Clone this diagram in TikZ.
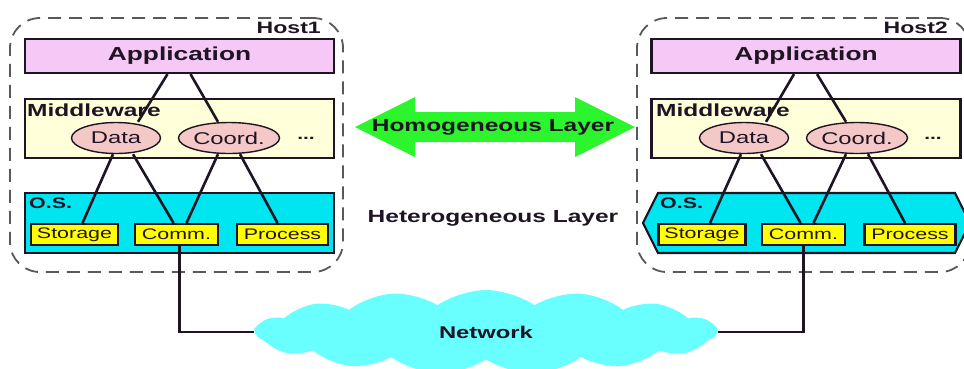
\documentclass[tikz,border=0pt]{standalone}
\usepackage{fontspec}
\setmainfont{Liberation Sans}[FakeStretch=1.4]
\usetikzlibrary{shapes.geometric,shapes.symbols}
\definecolor{appviolet}{RGB}{245,200,245}
\definecolor{mwcream}{RGB}{255,255,218}
\definecolor{modpink}{RGB}{245,200,200}
\definecolor{oscyan}{RGB}{0,230,240}
\definecolor{resyellow}{RGB}{255,255,0}
\definecolor{homgreen}{RGB}{45,245,45}
\definecolor{netcyan}{RGB}{105,255,255}
\definecolor{ink}{RGB}{30,20,35}
\tikzset{
    host/.style={draw=black!65, dash pattern=on 13pt off 8pt, line width=1.8pt,
        rounded corners=30pt, minimum width=333pt, minimum height=254pt},
    hostname/.style={anchor=east, inner sep=0pt, text=ink,
        font=\bfseries\fontsize{16.5}{18}\selectfont},
    layer/.style={draw=ink, line width=2.2pt, minimum width=309pt, inner sep=0pt, text=ink},
    layertitle/.style={anchor=west, inner sep=0pt, text=ink,
        font=\bfseries\fontsize{17.5}{19}\selectfont},
    module/.style={ellipse, draw=ink, line width=1.4pt, fill=modpink, minimum height=31pt,
        inner sep=0pt, text=ink, font=\fontsize{17}{18}\selectfont},
    resource/.style={draw=ink, line width=2.2pt, fill=resyellow, minimum height=21pt,
        inner sep=0pt, text=ink, font=\fontsize{15.3}{16}\selectfont},
    link/.style={draw=ink, line width=2.6pt},
}

\begin{document}
\begin{tikzpicture}[x=1pt, y=-1pt]
    \useasboundingbox (0,0) rectangle (964,368);
    \clip (0,0) rectangle (964,368);

    % Host1
    \node[host] (host1) at (176.5,145) {};
    \node[hostname] (host1name) at (321,28) {Host1};
    \node[layer, fill=appviolet, minimum height=34pt, font=\bfseries\fontsize{18.8}{20}\selectfont] (app1) at (179.5,56) {Application};
    \node[layer, fill=mwcream, minimum height=59pt] (mw1) at (179.5,128.5) {};
    \node[layertitle] (mwname1) at (27,110) {Middleware};
    \node[module, minimum width=89pt] (data1) at (116,138) {Data};
    \node[module, minimum width=100pt] (coord1) at (229,138) {Coord.};
    \node[text=ink, font=\bfseries\fontsize{15}{16}\selectfont] (more1) at (306,138) {...};
    \node[layer, fill=oscyan, minimum height=60pt] (os1) at (179.5,223) {};
    \node[layertitle, font=\bfseries\fontsize{15.3}{16}\selectfont] (osname1) at (29,203) {O.S.};
    \node[resource, minimum width=87pt] (storage1) at (74.5,234.5) {Storage};
    \node[resource, minimum width=83pt] (comm1) at (176.5,234.5) {Comm.};
    \node[resource, minimum width=91pt] (process1) at (282.5,234.5) {Process};
    \draw[link] ([xshift=-12pt]app1.south) -- ([xshift=22pt]data1.north);
    \draw[link] ([xshift=11pt]app1.south) -- ([xshift=-11pt]coord1.north);
    \draw[link] ([xshift=-3pt]data1.south) -- ([xshift=8pt]storage1.north);
    \draw[link] ([xshift=17pt]data1.south) -- ([xshift=-3pt]comm1.north);
    \draw[link] ([xshift=-11pt]coord1.south) -- ([xshift=10pt]comm1.north);
    \draw[link] ([xshift=11pt]coord1.south) -- ([xshift=-5pt]process1.north);

    % Host2
    \node[host] (host2) at (803.5,145) {};
    \node[hostname] (host2name) at (948,28) {Host2};
    \node[layer, fill=appviolet, minimum height=34pt, font=\bfseries\fontsize{18.8}{20}\selectfont] (app2) at (806,56) {Application};
    \node[layer, fill=mwcream, minimum height=59pt] (mw2) at (806,128.5) {};
    \node[layertitle] (mwname2) at (656,110) {Middleware};
    \node[module, minimum width=89pt] (data2) at (744,138) {Data};
    \node[module, minimum width=100pt] (coord2) at (857,138) {Coord.};
    \node[text=ink, font=\bfseries\fontsize{15}{16}\selectfont] (more2) at (933,138) {...};
    \filldraw[fill=oscyan, draw=ink, line width=2.2pt] (643,223) -- (658,193) -- (955,193) -- (970,223) -- (955,253) -- (658,253) -- cycle;
    \node[layertitle, font=\bfseries\fontsize{15.3}{16}\selectfont] (osname2) at (660,203) {O.S.};
    \node[resource, minimum width=87pt] (storage2) at (702,234.5) {Storage};
    \node[resource, minimum width=83pt] (comm2) at (803.5,234.5) {Comm.};
    \node[resource, minimum width=91pt] (process2) at (910,234.5) {Process};
    \draw[link] ([xshift=-12pt]app2.south) -- ([xshift=22pt]data2.north);
    \draw[link] ([xshift=11pt]app2.south) -- ([xshift=-11pt]coord2.north);
    \draw[link] ([xshift=-3pt]data2.south) -- ([xshift=8pt]storage2.north);
    \draw[link] ([xshift=17pt]data2.south) -- ([xshift=-3pt]comm2.north);
    \draw[link] ([xshift=-11pt]coord2.south) -- ([xshift=10pt]comm2.north);
    \draw[link] ([xshift=11pt]coord2.south) -- ([xshift=-5pt]process2.north);

    % layers in between
    \fill[homgreen] (355,127) -- (415,97) -- (415,112) -- (575,112) -- (575,97) -- (635,127)
        -- (575,157) -- (575,142) -- (415,142) -- (415,157) -- cycle;
    \node[layertitle, anchor=center] (homlayer) at (493,127) {Homogeneous Layer};
    \node[layertitle, anchor=center] (hetlayer) at (493,218) {Heterogeneous Layer};

    % network
    \node[cloud, fill=netcyan, cloud puffs=15, cloud puff arc=70, aspect=5.5,
        minimum width=460pt, minimum height=84pt, inner sep=0pt, text=ink,
        font=\bfseries\fontsize{17}{18}\selectfont] (net) at (486,332) {Network};
    \draw[link] ([xshift=3pt]comm1.south) |- (net.west);
    \draw[link] (comm2.south) |- (net.east);
\end{tikzpicture}
\end{document}
